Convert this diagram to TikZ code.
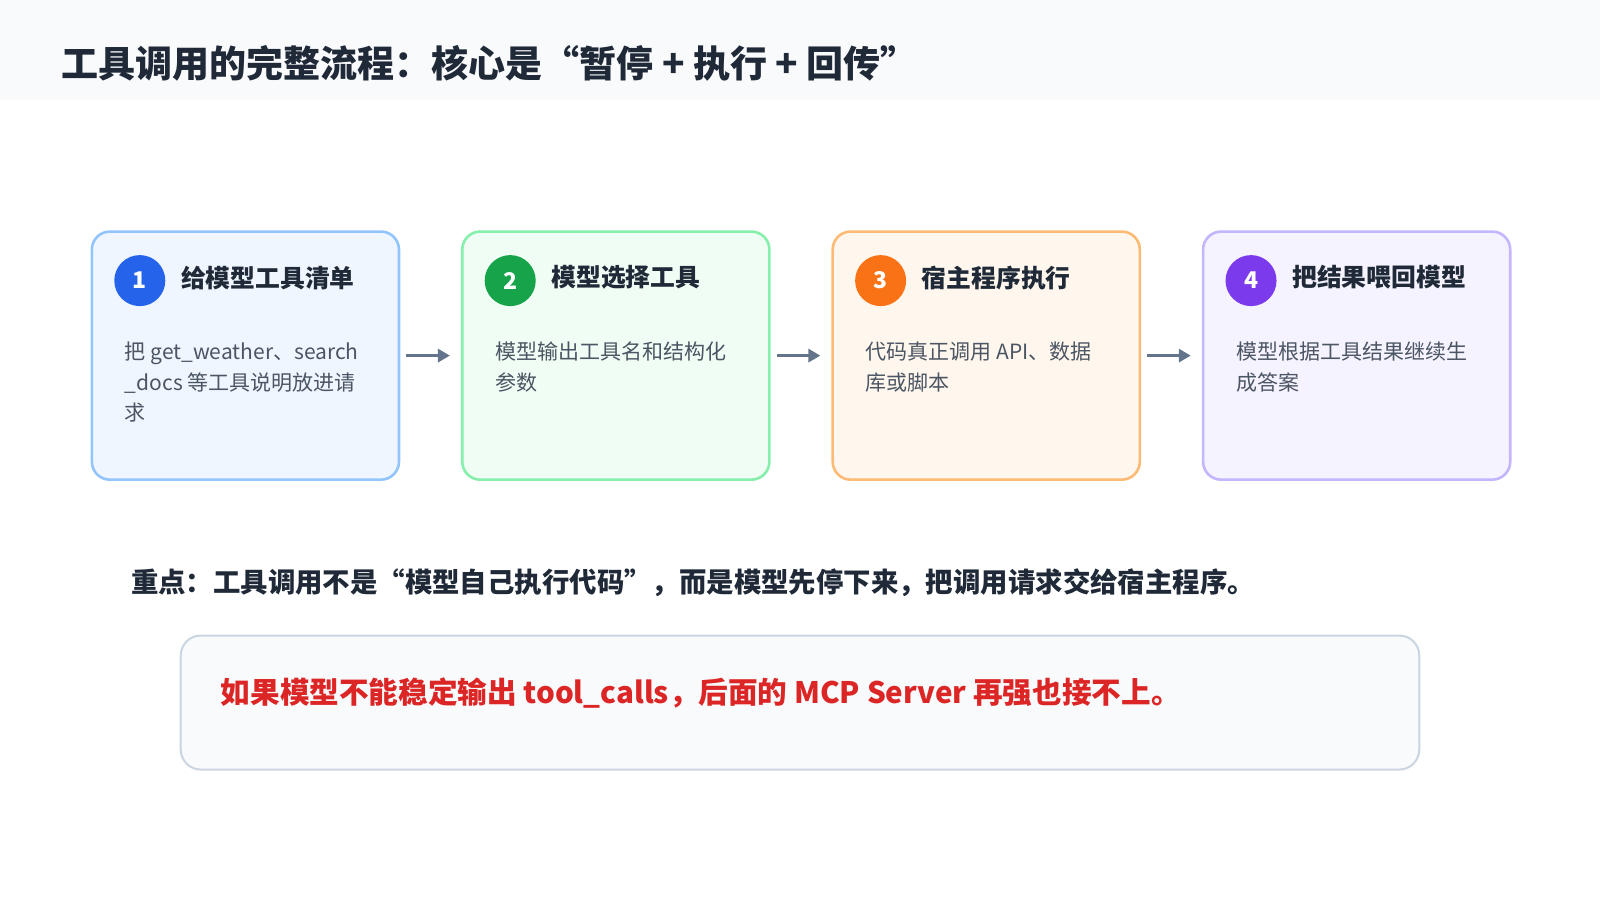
\documentclass[tikz,border=0pt]{standalone}
\usepackage{fontspec}
\setmainfont{Noto Sans CJK SC}
\usetikzlibrary{positioning, arrows.meta}

\definecolor{barbg}{HTML}{F8FAFC}
\definecolor{ink}{HTML}{1F2937}
\definecolor{bodyc}{HTML}{4B5563}
\definecolor{arrc}{HTML}{64748B}
\definecolor{bluefill}{HTML}{EFF6FF}\definecolor{blueline}{HTML}{93C5FD}\definecolor{bluedot}{HTML}{2563EB}
\definecolor{greenfill}{HTML}{F0FDF4}\definecolor{greenline}{HTML}{86EFAC}\definecolor{greendot}{HTML}{16A34A}
\definecolor{orangefill}{HTML}{FFF7ED}\definecolor{orangeline}{HTML}{FDBA74}\definecolor{orangedot}{HTML}{F97316}
\definecolor{purplefill}{HTML}{F5F3FF}\definecolor{purpleline}{HTML}{C4B5FD}\definecolor{purpledot}{HTML}{7C3AED}
\definecolor{notebd}{HTML}{CBD5E1}
\definecolor{alert}{HTML}{DC2626}

\tikzset{
    step/.style = {draw=#1line, fill=#1fill, line width=1.3pt, rounded corners=9pt,
                   minimum width=153.5pt, minimum height=124pt, inner sep=0pt},
    dot/.style = {circle, fill=#1dot, minimum size=25.5pt, inner sep=0pt,
                  text=white, font=\bfseries\fontsize{11.5}{13}\selectfont},
    head/.style = {anchor=west, inner sep=0pt, text=ink, font=\bfseries\fontsize{12.4}{14}\selectfont},
    body/.style = {anchor=north west, inner sep=0pt, align=left, text=bodyc,
                   font=\fontsize{10.5}{15.1}\selectfont},
    flow/.style = {-{Triangle[length=6pt,width=6.5pt]}, draw=arrc, line width=1.5pt}
}

\begin{document}
\begin{tikzpicture}[x=0.51pt, y=-0.51pt]
    \useasboundingbox (0,0) rectangle (1568,882);
    \fill[barbg] (0,0) rectangle (1568,98);
    \node[anchor=west, inner sep=0pt, text=ink, font=\bfseries\fontsize{18.5}{21}\selectfont]
        (title) at (60,62) {工具调用的完整流程：核心是“暂停 + 执行 + 回传”};

    \node[step=blue] (s1) at (240.5,348.5) {};
    \node[step=green] (s2) at (603.5,348.5) {};
    \node[step=orange] (s3) at (966.5,348.5) {};
    \node[step=purple] (s4) at (1329.5,348.5) {};

    \node[dot=blue] (d1) at (137,275) {1};
    \node[dot=green] (d2) at (500,275) {2};
    \node[dot=orange] (d3) at (863,275) {3};
    \node[dot=purple] (d4) at (1226,275) {4};

    \node[head, right=7.5pt of d1, yshift=1.5pt] (h1) {给模型工具清单};
    \node[head, right=7.5pt of d2, yshift=1.5pt] (h2) {模型选择工具};
    \node[head, right=7.5pt of d3, yshift=1.5pt] (h3) {宿主程序执行};
    \node[head, right=7.5pt of d4, yshift=1.5pt] (h4) {把结果喂回模型};

    \node[body] (b1) at (122,335) {把 get\_weather、search\\\_docs 等工具说明放进请\\求};
    \node[body] (b2) at (485,335) {模型输出工具名和结构化\\参数};
    \node[body] (b3) at (848,335) {代码真正调用 API、数据\\库或脚本};
    \node[body] (b4) at (1211,335) {模型根据工具结果继续生\\成答案};

    % arrows between steps
    \draw[flow] ([xshift=3pt]s1.east) -- ([xshift=-5.5pt]s2.west);
    \draw[flow] ([xshift=3pt]s2.east) -- ([xshift=-5.5pt]s3.west);
    \draw[flow] ([xshift=3pt]s3.east) -- ([xshift=-5.5pt]s4.west);

    \node[anchor=west, inner sep=0pt, text=ink, font=\bfseries\fontsize{13.7}{16}\selectfont]
        (key) at (128,571) {重点：工具调用不是“模型自己执行代码”，而是模型先停下来，把调用请求交给宿主程序。};

    \node[draw=notebd, fill=barbg, line width=1pt, rounded corners=10pt, inner sep=0pt,
          minimum width=619pt, minimum height=67pt] (note) at (784,688.5) {};
    \node[anchor=west, inner sep=0pt, text=alert, font=\bfseries\fontsize{14.8}{17}\selectfont]
        (warn) at (216,679) {如果模型不能稳定输出 tool\_calls，后面的 MCP Server 再强也接不上。};
\end{tikzpicture}
\end{document}
